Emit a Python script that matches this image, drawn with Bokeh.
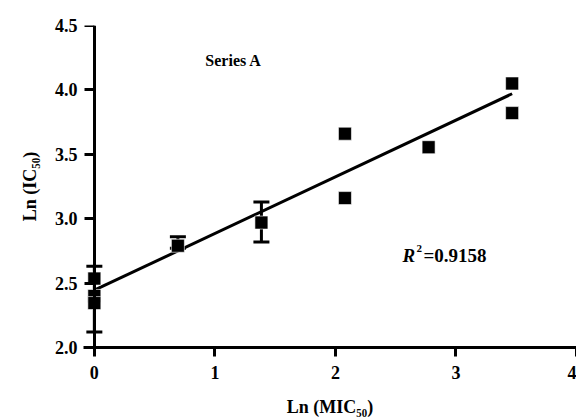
from bokeh.plotting import figure
from bokeh.models import (ColumnDataSource, Whisker, TeeHead, Label, FixedTicker,
                          CustomJSTickFormatter, Range1d, LinearAxis)
from bokeh.embed import file_html
from bokeh.resources import INLINE

# ---- data ----
x_vals = [0.0, 0.0, 0.0, 0.693, 1.386, 2.079, 2.079, 2.773, 3.466, 3.466]
y_vals = [2.535, 2.40, 2.345, 2.79, 2.97, 3.66, 3.16, 3.555, 4.05, 3.82]

err_x = [0.0, 0.693, 1.386]
err_lo = [2.12, 2.77, 2.82]
err_hi = [2.63, 2.86, 3.13]

fit_x = [0.0, 3.466]
fit_y = [2.445, 3.97]

x_ticks = [0, 1, 2, 3, 4]
y_ticks = [2.0, 2.5, 3.0, 3.5, 4.0, 4.5]

x_title = "Ln (MIC₅₀)"
y_title = "Ln (IC₅₀)"

FONT = "Liberation Serif"

p = figure(width=576, height=419, output_backend="svg", toolbar_location=None,
           x_range=Range1d(-0.09, 4.0), y_range=Range1d(2.0, 4.5),
           min_border_left=83, min_border_right=0, min_border_top=25,
           min_border_bottom=72, title=None)
p.outline_line_color = None
p.xgrid.visible = False
p.ygrid.visible = False
p.background_fill_color = "white"
p.border_fill_color = "white"

def style_axis(ax):
    ax.axis_line_width = 3
    ax.axis_line_color = "black"
    ax.major_tick_line_width = 3
    ax.major_tick_line_color = "black"
    ax.major_tick_out = 9
    ax.major_tick_in = 0
    ax.minor_tick_line_color = None
    ax.major_label_text_font = FONT
    ax.major_label_text_font_style = "bold"
    ax.major_label_text_font_size = "18px"
    ax.major_label_text_color = "black"
    ax.axis_label_text_font = FONT
    ax.axis_label_text_font_style = "bold"
    ax.axis_label_text_font_size = "18px"
    ax.axis_label_text_color = "black"

xa = p.xaxis[0]
ya = p.yaxis[0]
style_axis(xa)
style_axis(ya)

xa.ticker = FixedTicker(ticks=x_ticks)
xa.formatter = CustomJSTickFormatter(code="return tick.toFixed(0);")
xa.major_label_standoff = 9
xa.axis_label = x_title
xa.axis_label_standoff = 15

# primary left axis: line and ticks fixed at x = 0 (no labels)
ya.ticker = FixedTicker(ticks=y_ticks)
ya.fixed_location = 0
ya.major_tick_out = 10
ya.major_label_text_font_size = "0px"
ya.major_label_text_color = None
ya.major_label_standoff = 0

# outer left axis: tick labels and title only
yl = LinearAxis(ticker=FixedTicker(ticks=y_ticks),
                formatter=CustomJSTickFormatter(code="return tick.toFixed(1);"))
style_axis(yl)
yl.axis_line_color = None
yl.major_tick_line_color = None
yl.major_tick_out = 0
yl.major_label_standoff = 6
yl.axis_label = y_title
yl.axis_label_standoff = 12
p.add_layout(yl, "left")

# regression line
p.line(fit_x, fit_y, line_width=3, line_color="black")

# error bars
esrc = ColumnDataSource(dict(x=err_x, lo=err_lo, hi=err_hi))
wh = Whisker(base="x", lower="lo", upper="hi", source=esrc, dimension="height",
             line_width=3, line_color="black",
             upper_head=TeeHead(size=16, line_width=3, line_color="black"),
             lower_head=TeeHead(size=16, line_width=3, line_color="black"))
p.add_layout(wh)

# points
p.scatter(x_vals, y_vals, marker="square", size=13, fill_color="black",
          line_color="white", line_width=0.6)

def lab(x, y, t, size="17px", style="bold"):
    p.add_layout(Label(x=x, y=y, text=t, text_font=FONT, text_font_style=style,
                       text_font_size=size, text_color="black",
                       text_align="left", text_baseline="alphabetic"))

# annotations
lab(0.921, 4.23, "Series A", size="16px")
lab(2.556, 2.714, "R", size="19px", style="bold italic")
lab(2.672, 2.768, "2", size="11px")
lab(2.730, 2.714, "=0.9158", size="19px")

open("out.html", "w").write(file_html(p, INLINE))
